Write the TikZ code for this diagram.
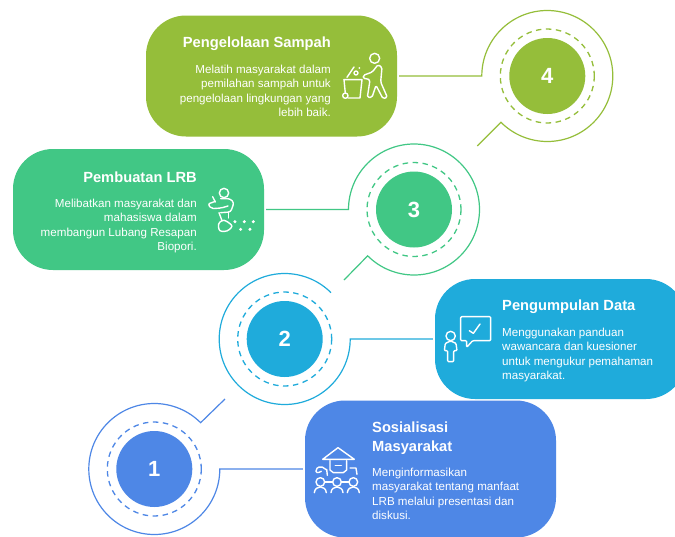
\documentclass[tikz,border=0pt]{standalone}
\usepackage{fontspec}
\setmainfont{Liberation Sans}
\usetikzlibrary{calc}
\definecolor{cfour}{HTML}{95BE3A}
\definecolor{cthree}{HTML}{41C785}
\definecolor{ctwo}{HTML}{1FABDB}
\definecolor{cone}{HTML}{4E87E6}
\tikzset{
  x=1pt,y=-1pt,
  card/.style={fill=#1,draw=none,rounded corners=40pt,inner sep=0pt,minimum width=251pt},
  disc/.style={circle,fill=#1,draw=none,minimum size=76pt,inner sep=0pt,text=white,font=\fontsize{22}{22}\selectfont\bfseries},
  ring/.style={draw=#1,line width=1.2pt,line join=miter},
  dashring/.style={draw=#1,line width=1.3pt,dash pattern=on 5.5pt off 4.5pt},
  ttl/.style={text=white,inner sep=0pt,align=left,font=\fontsize{14.7}{18.5}\selectfont\bfseries},
  bodyL/.style={text=white,inner sep=0pt,align=left,font=\fontsize{11.6}{14.5}\selectfont},
  bodyR/.style={text=white,inner sep=0pt,align=right,font=\fontsize{11.6}{14.5}\selectfont},
  ico/.style={draw=white,line width=1.4pt,line join=round,line cap=round},
  icos/.style={shift={#1},x=0.3333pt,y=-0.3333pt}
}
\begin{document}
\begin{tikzpicture}
\useasboundingbox (0,0) rectangle (675,536);
\clip (0,0) rectangle (675,536);
\fill[white] (0,0) rectangle (675,536);
% cards
\node[card=cfour,minimum height=121pt] (card4) at (271.5,76) {};
\node[card=cthree,minimum height=121pt] (card3) at (138.5,209.5) {};
\node[card=ctwo,minimum height=120pt] (card2) at (560.5,339) {};
\node[card=cone,minimum height=137pt] (card1) at (430.5,469) {};
% discs
\node[disc=cfour] (c4) at (547.3,76) {4};
\node[disc=cthree] (c3) at (414,209.5) {3};
\node[disc=ctwo] (c2) at (284.7,339) {2};
\node[disc=cone] (c1) at (154.3,469) {1};
% dashed rings
\foreach \n/\col in {c4/cfour,c3/cthree,c2/ctwo,c1/cone}{
  \draw[dashring=\col] (\n) circle[radius=47];
}
% free ends
\coordinate (e4) at (477.3,146);
\coordinate (e3) at (344,280);
\coordinate (e1) at (225,399);
% outer rings with connectors
\draw[ring=cfour,shorten <=2pt] (card4.east) -- ($(c4)+(-65.5,0)$) arc[radius=65.5,start angle=180,end angle=495] -- (e4);
\draw[ring=cthree,shorten <=2pt] (card3.east) -- ($(c3)+(-65.5,0)$) arc[radius=65.5,start angle=180,end angle=495] -- (e3);
\draw[ring=ctwo,shorten <=2pt] (card2.west) -- ($(c2)+(65.5,0)$) arc[radius=65.5,start angle=360,end angle=675];
\draw[ring=cone,shorten <=2pt] (card1.west) -- ($(c1)+(65.5,0)$) arc[radius=65.5,start angle=360,end angle=675] -- (e1);
% texts
\node[ttl,anchor=east] (t4) at (331,44) {Pengelolaan Sampah};
\node[bodyR,anchor=north east] (b4) at (331,64.5) {Melatih masyarakat dalam\\pemilahan sampah untuk\\pengelolaan lingkungan yang\\lebih baik.};
\node[ttl,anchor=east] (t3) at (197,177) {Pembuatan LRB};
\node[bodyR,anchor=north east] (b3) at (197,198.5) {Melibatkan masyarakat dan\\mahasiswa dalam\\membangun Lubang Resapan\\Biopori.};
\node[ttl,anchor=west] (t2) at (502,307) {Pengumpulan Data};
\node[bodyL,anchor=north west] (b2) at (502,327.8) {Menggunakan panduan\\wawancara dan kuesioner\\untuk mengukur pemahaman\\masyarakat.};
\node[ttl,anchor=north west] (t1) at (372,422) {Sosialisasi\\Masyarakat};
\node[bodyL,anchor=north west] (b1) at (372,467.5) {Menginformasikan\\masyarakat tentang manfaat\\LRB melalui presentasi dan\\diskusi.};
% icon 4
\begin{scope}[icos={(338,48)}]
  \draw[ico] (110,31) circle[radius=15];
  \draw[ico] (18,95) -- (72,95) -- (66,150) -- (30,150);
  \draw[ico] (18,95) -- (22,136);
  \draw[ico] (22,143) circle[radius=8];
  \draw[ico] (27,88) -- (48,57);
  \draw[ico] (54,75) circle[radius=6];
  \fill[white] (64,60) circle[radius=3];
  \draw[ico,rounded corners=1.5pt] (88,92) -- (76,92) -- (76,82) -- (103,72) -- (120,50) -- (132,58) -- (128,102) -- (148,148) -- (135,152) -- (114,112) -- (102,148) -- (88,148) -- (96,96) -- cycle;
\end{scope}
% icon 3
\begin{scope}[icos={(204,182)}]
  \draw[ico] (60,33) circle[radius=14];
  \draw[ico,rounded corners=2.5pt] (50,50) -- (78,50) -- (90,62) -- (80,90) -- (50,92);
  \draw[ico,rounded corners=2pt] (34,58) -- (12,66) -- (22,80) -- (52,78) -- (72,72);
  \draw[ico] (26,44) -- (34,60);
  \draw[ico] (74,90) -- (74,108);
  \draw[ico] (45,92) -- (54,116);
  \draw[ico,rounded corners=2.5pt] (54,114) -- (42,126) -- (46,148) -- (70,148) -- (87,132) -- (66,116) -- cycle;
  \foreach \p in {(93,119),(121,119),(148,119),(110,142),(138,142)}{\fill[white] \p circle[radius=5];}
\end{scope}
% icon 2
\begin{scope}[icos={(440,310)}]
  \draw[ico,rounded corners=1pt] (62,20) -- (152,20) -- (152,92) -- (98,92) -- (80,112) -- (80,92) -- (62,92) -- cycle;
  \draw[ico] (88,62) -- (100,70) -- (120,42);
  \draw[ico] (32,78) circle[radius=14];
  \draw[ico,rounded corners=1pt] (32,93) -- (16,100) -- (13,122) -- (23,122) -- (23,155) -- (41,155) -- (41,122) -- (51,122) -- (48,100) -- cycle;
\end{scope}
% icon 1
\begin{scope}[icos={(310,440)}]
  \draw[ico] (38,58) -- (84,23) -- (133,58) -- cycle;
  \draw[ico] (60,62) -- (60,90) -- (70,98) -- (100,98) -- (110,90) -- (110,62);
  \draw[ico] (76,76) -- (94,76);
  \draw[ico,rounded corners=2pt] (50,90) -- (32,78) -- (16,88) -- (20,100) -- (34,94);
  \draw[ico] (120,84) -- (138,84) -- (141,103);
  \draw[ico] (50,88) -- (52,106);
  \foreach \cx in {31,81,130}{
    \draw[ico] (\cx,126) circle[radius=13];
    \draw[ico] ($(\cx,158)+(-18,0)$) .. controls ($(\cx,135)+(-16,0)$) and ($(\cx,135)+(16,0)$) .. ($(\cx,158)+(18,0)$);
  }
  \draw[ico] (44,126) -- (68,126);
  \draw[ico] (94,126) -- (117,126);
\end{scope}
\end{tikzpicture}
\end{document}
